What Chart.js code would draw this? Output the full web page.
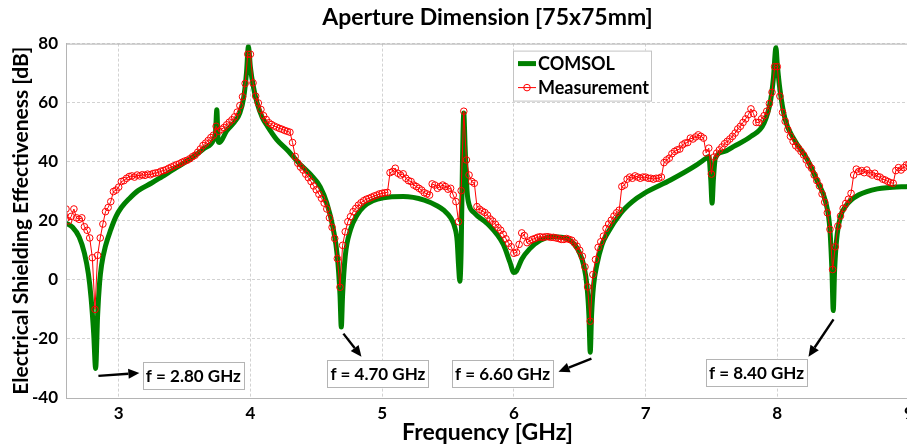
<!DOCTYPE html>
<html>
<head>
<meta charset="utf-8">
<script src="https://cdn.jsdelivr.net/npm/chart.js@4.4.0/dist/chart.umd.min.js"></script>
<style>
  html, body { margin: 0; padding: 0; background: #fff; overflow: hidden; }
  #wrap { width: 909px; height: 448px; position: relative; }
</style>
</head>
<body>
<div id="wrap"><canvas id="myChart"></canvas></div>
<script>
// COMSOL simulation (GHz, dB)
const comsolFreq = [2.60, 2.65, 2.70, 2.74, 2.77, 2.79, 2.81, 2.825, 2.84, 2.855, 2.87, 2.90, 2.94, 2.98, 3.02, 3.08, 3.15, 3.25, 3.33, 3.45,
  3.57, 3.65, 3.72, 3.735, 3.745, 3.755, 3.765, 3.82, 3.88, 3.92, 3.95, 3.97, 3.985, 4.00, 4.02, 4.05, 4.09, 4.13, 4.20, 4.28,
  4.38, 4.46, 4.53, 4.58, 4.63, 4.66, 4.68, 4.69, 4.70, 4.72, 4.76, 4.81, 4.86, 4.93, 5.01, 5.16, 5.32, 5.42, 5.47, 5.52,
  5.55, 5.57, 5.58, 5.59, 5.60, 5.61, 5.62, 5.63, 5.645, 5.66, 5.70, 5.80, 5.92, 5.97, 6.00, 6.02, 6.06, 6.12, 6.20, 6.30,
  6.40, 6.46, 6.50, 6.53, 6.555, 6.57, 6.58, 6.59, 6.605, 6.63, 6.67, 6.71, 6.81, 6.90, 6.99, 7.19, 7.37, 7.46, 7.48, 7.495,
  7.505, 7.515, 7.53, 7.60, 7.67, 7.80, 7.90, 7.95, 7.97, 7.99, 8.00, 8.02, 8.06, 8.13, 8.23, 8.30, 8.37, 8.40, 8.415, 8.425,
  8.435, 8.45, 8.48, 8.52, 8.56, 8.62, 8.68, 8.76, 8.83, 9.00];
const comsolDb = [19.2, 17.8, 14.5, 9, 2, -6, -18, -30, -12, -1, 5, 11.5, 17, 21.5, 24.5, 27.5, 30.3, 32.8, 35, 38.3,
  41.8, 44.5, 47.4, 50, 57.6, 47, 46.5, 50.5, 53.5, 56.5, 62, 70, 79, 72, 66, 60, 55, 52, 47.5, 44,
  39, 35.5, 31.5, 26, 17, 8, -5, -16, -5, 8, 17, 22, 24.8, 26.8, 27.8, 28.2, 27, 25, 23.5, 21,
  18, 13, 5, -0.5, 10, 40, 56.5, 45, 30, 25.5, 22.7, 19, 12, 6, 2.5, 3, 7, 10.5, 13.4, 14.6,
  14, 12, 9, 5, -2, -12, -24.5, -12, -2, 5, 12, 15.7, 22.5, 26.5, 29.3, 33.8, 38.4, 41.2, 41.8, 34,
  26, 34, 41.2, 43.5, 45.2, 48.6, 53.1, 61, 68, 78.6, 73, 64.5, 54.3, 47.4, 40.6, 33.8, 25.9, 16.8, 3, -10.4,
  3, 13.4, 21.4, 25, 27, 28.8, 29.9, 30.8, 31.2, 31.6];

// Measurement, one reading every 0.02 GHz from 2.60 GHz
const measStart = 2.6;
const measStep = 0.02;
const measDb = [
  24, 20, 21.5, 24, 21, 20.5, 21, 18, 16.8, 14.2,
  7.5, -10, 8.3, 14.2, 18.9, 23.1, 24.5, 26.5, 29.9, 30.4,
  31.4, 33.3, 33.6, 34.4, 35.0, 35.2, 34.8, 35.5, 35.2, 35.6,
  35.4, 35.8, 35.6, 36.0, 36.2, 36.3, 36.8, 37.0, 37.3, 37.8,
  38.2, 38.6, 39.0, 39.3, 39.8, 40.2, 40.5, 41.0, 41.7, 42.2,
  43.2, 44.3, 45.5, 46.3, 47.2, 48.2, 49.0, 52.0, 50.3, 51.0,
  51.6, 52.5, 53.4, 54.2, 55.2, 56.8, 59.0, 62.0, 66.5, 76.4,
  76.4, 66.7, 62.2, 59.9, 57.7, 55.6, 54.3, 53.2, 52.6, 52.1,
  51.7, 51.3, 51.0, 50.6, 50.3, 50.0, 46.5, 41.8, 39.5, 38.2,
  37.2, 35.8, 34.6, 33.3, 31.8, 30.5, 29.0, 27.6, 26.0, 24.0,
  21.0, 17.8, 14.0, 7.2, -2.5, 11.7, 16.3, 19.7, 21.4, 23.1,
  24.2, 25.3, 26.1, 26.8, 27.3, 27.6, 28.0, 28.4, 28.7, 29.1,
  29.3, 29.5, 29.6, 36.3, 36.7, 37.8, 36.1, 35.5, 35.9, 34.4,
  33.6, 33.3, 32.1, 31.6, 31.0, 30.4, 29.5, 29.1, 28.7, 32.5,
  32.1, 31.0, 31.6, 32.1, 31.6, 30.7, 31.0, 28.7, 26.5, 19.7,
  30.2, 57.1, 40.6, 35.5, 33.3, 32.7, 24.8, 23.9, 23.3, 22.8,
  21.9, 20.6, 19.9, 18.8, 17.7, 16.8, 15.4, 13.9, 12.4, 11.2,
  9.0, 9.3, 12.0, 15.9, 15.0, 12.6, 13.2, 13.7, 14.0, 14.4,
  14.6, 14.4, 14.6, 14.6, 14.4, 14.4, 14.2, 14.0, 13.7, 13.7,
  14.0, 13.7, 13.4, 12.5, 11.4, 10.0, 8.0, 4.4, -2.4, -14.0,
  1.8, 6.9, 11.0, 12.9, 14.8, 17.4, 18.9, 20.2, 21.6, 22.7,
  23.6, 31.6, 32.1, 34.1, 34.8, 34.4, 35.2, 34.8, 34.4, 34.8,
  34.8, 34.4, 34.4, 34.1, 34.4, 34.4, 34.8, 39.7, 40.6, 41.2,
  42.7, 43.5, 44.0, 44.3, 45.7, 46.3, 46.5, 48.0, 47.7, 48.4,
  49.1, 48.6, 48.0, 43.0, 44.6, 35.8, 41.6, 42.9, 44.0, 45.0,
  46.1, 46.9, 47.7, 48.6, 49.7, 51.1, 52.0, 53.3, 54.5, 55.9,
  57.9, 56.3, 53.3, 53.3, 54.5, 55.6, 57.1, 59.7, 63.5, 72.2,
  72.2, 62.2, 56.7, 53.7, 50.9, 48.6, 46.9, 45.4, 44.6, 43.5,
  42.3, 40.6, 38.9, 37.8, 35.5, 33.6, 31.8, 29.1, 26.3, 22.7,
  17.1, 3.5, 11.2, 18.2, 21.6, 24.2, 25.9, 27.3, 29.3, 35.5,
  37.5, 36.7, 37.0, 36.3, 37.2, 36.1, 35.5, 36.1, 35.0, 34.8,
  34.1, 33.8, 33.3, 32.9, 32.7, 37.0, 38.0, 37.2, 38.0, 38.9,
  39.2
];
const measFreq = measDb.map((v, i) => +(measStart + i * measStep).toFixed(2));

const xTicks = [3, 4, 5, 6, 7, 8, 9];

// resonance call-outs: label box centre and arrow (GHz, dB)
const markLabels = ['f = 2.80 GHz', 'f = 4.70 GHz', 'f = 6.60 GHz', 'f = 8.40 GHz'];
const markFreq = [3.567, 4.968, 5.914, 7.842];
const markDb = [-32.3, -31.8, -31.8, -31.5];
const arrowFrom = [[2.846, -32.5], [4.706, -18.2], [6.589, -26.7], [8.427, -13.4]];
const arrowTo = [[3.157, -31.5], [4.843, -26], [6.339, -31.1], [8.237, -26]];

const fontFam = 'Lato, "DejaVu Sans", sans-serif';
const comsolColor = 'rgb(0,128,0)';
const measColor = 'rgb(255,0,0)';

const overlay = {
  id: 'overlay',
  afterLayout(chart) {
    // centre the title over the plot area, not the canvas
    chart.titleBlock.left = chart.chartArea.left;
    chart.titleBlock.right = chart.chartArea.right;
  },
  afterDatasetsDraw(chart) {
    const {ctx, chartArea: a, scales: {x, y}} = chart;
    ctx.save();
    ctx.strokeStyle = '#b4b4b4';
    ctx.lineWidth = 1;
    ctx.strokeRect(a.left + 0.5, a.top + 0.5, a.right - a.left - 1, a.bottom - a.top);

    // arrows
    ctx.strokeStyle = '#000';
    ctx.fillStyle = '#000';
    ctx.lineWidth = 2.4;
    arrowFrom.forEach((f, i) => {
      const x0 = x.getPixelForValue(f[0]), y0 = y.getPixelForValue(f[1]);
      const x1 = x.getPixelForValue(arrowTo[i][0]), y1 = y.getPixelForValue(arrowTo[i][1]);
      const ang = Math.atan2(y1 - y0, x1 - x0);
      const hl = 11, hw = 5;
      ctx.beginPath();
      ctx.moveTo(x0, y0);
      ctx.lineTo(x1 - hl * Math.cos(ang), y1 - hl * Math.sin(ang));
      ctx.stroke();
      ctx.beginPath();
      ctx.moveTo(x1, y1);
      ctx.lineTo(x1 - hl * Math.cos(ang) + hw * Math.sin(ang), y1 - hl * Math.sin(ang) - hw * Math.cos(ang));
      ctx.lineTo(x1 - hl * Math.cos(ang) - hw * Math.sin(ang), y1 - hl * Math.sin(ang) + hw * Math.cos(ang));
      ctx.closePath();
      ctx.fill();
    });

    // label boxes
    ctx.font = 'bold 17px ' + fontFam;
    ctx.textAlign = 'center';
    ctx.textBaseline = 'middle';
    markLabels.forEach((t, i) => {
      const cx = x.getPixelForValue(markFreq[i]), cy = y.getPixelForValue(markDb[i]);
      const w = 101, h = 27;
      ctx.fillStyle = '#fff';
      ctx.fillRect(cx - w / 2, cy - h / 2, w, h);
      ctx.strokeStyle = '#b4b4b4';
      ctx.lineWidth = 1;
      ctx.strokeRect(Math.round(cx - w / 2) + 0.5, Math.round(cy - h / 2) + 0.5, w, h);
      ctx.fillStyle = '#000';
      ctx.fillText(t, cx, cy + 1);
    });

    // legend
    const lx = a.left + 447, ly = a.top + 7, lw = 138, lh = 50;
    ctx.font = 'bold 18px ' + fontFam;
    ctx.fillStyle = '#fff';
    ctx.fillRect(lx, ly, lw, lh);
    ctx.strokeStyle = '#c4c4c4';
    ctx.strokeRect(lx + 0.5, ly + 0.5, lw, lh);
    ctx.textAlign = 'left';
    ctx.fillStyle = '#000';
    ctx.strokeStyle = comsolColor;
    ctx.lineWidth = 5;
    ctx.beginPath(); ctx.moveTo(lx + 5, ly + 13); ctx.lineTo(lx + 23, ly + 13); ctx.stroke();
    ctx.fillText('COMSOL', lx + 25, ly + 14);
    ctx.strokeStyle = measColor;
    ctx.lineWidth = 1;
    ctx.beginPath(); ctx.moveTo(lx + 5, ly + 37); ctx.lineTo(lx + 23, ly + 37); ctx.stroke();
    ctx.beginPath(); ctx.arc(lx + 14, ly + 37, 3.3, 0, Math.PI * 2); ctx.stroke();
    ctx.fillText('Measurement', lx + 25, ly + 38);
    ctx.restore();
  }
};

const ctx = document.getElementById('myChart').getContext('2d');
new Chart(ctx, {
  type: 'line',
  data: {
    datasets: [{
      label: 'Measurement',
      data: measFreq.map((f, i) => ({x: f, y: measDb[i]})),
      borderColor: measColor,
      borderWidth: 1,
      pointRadius: 3.3,
      pointBorderWidth: 1,
      pointBorderColor: measColor,
      pointBackgroundColor: 'rgba(255,255,255,0)',
      tension: 0,
      order: 1
    }, {
      label: 'COMSOL',
      data: comsolFreq.map((f, i) => ({x: f, y: comsolDb[i]})),
      borderColor: comsolColor,
      borderWidth: 5,
      pointRadius: 0,
      cubicInterpolationMode: 'monotone',
      order: 2
    }]
  },
  options: {
    responsive: true,
    maintainAspectRatio: false,
    animation: false,
    layout: { padding: 0, autoPadding: false },
    plugins: {
      legend: { display: false },
      tooltip: { enabled: false },
      title: {
        display: true,
        text: 'Aperture Dimension [75x75mm]',
        color: '#000',
        font: { family: fontFam, size: 23, weight: 'bold' },
        padding: { top: 4, bottom: 12 }
      }
    },
    scales: {
      x: {
        type: 'linear',
        min: 2.6,
        max: 9,
        afterBuildTicks: (scale) => { scale.ticks = xTicks.map(v => ({value: v})); },
        afterFit: (scale) => { scale.height = 50; scale.paddingRight = 0; scale.paddingLeft = 0; },
        ticks: { color: '#000', padding: 5, maxRotation: 0, font: { family: fontFam, size: 17, weight: 'bold' } },
        grid: { color: '#d2d2d2', lineWidth: 1, drawTicks: false },
        border: { color: '#b4b4b4', dash: [3, 2] },
        title: {
          display: true,
          text: 'Frequency [GHz]',
          color: '#000',
          font: { family: fontFam, size: 23, weight: 'bold' },
          padding: { top: 0, bottom: 2 }
        }
      },
      y: {
        min: -40,
        max: 80,
        afterFit: (scale) => { scale.width = 66; },
        ticks: { stepSize: 20, color: '#000', padding: 8, font: { family: fontFam, size: 17, weight: 'bold' } },
        grid: { color: '#d2d2d2', lineWidth: 1, drawTicks: false },
        border: { color: '#b4b4b4', dash: [3, 2] },
        title: {
          display: true,
          text: 'Electrical Shielding Effectiveness [dB]',
          color: '#000',
          font: { family: fontFam, size: 21, weight: 'bold' },
          padding: { top: 9, bottom: 0 }
        }
      }
    }
  },
  plugins: [overlay]
});
</script>
</body>
</html>
